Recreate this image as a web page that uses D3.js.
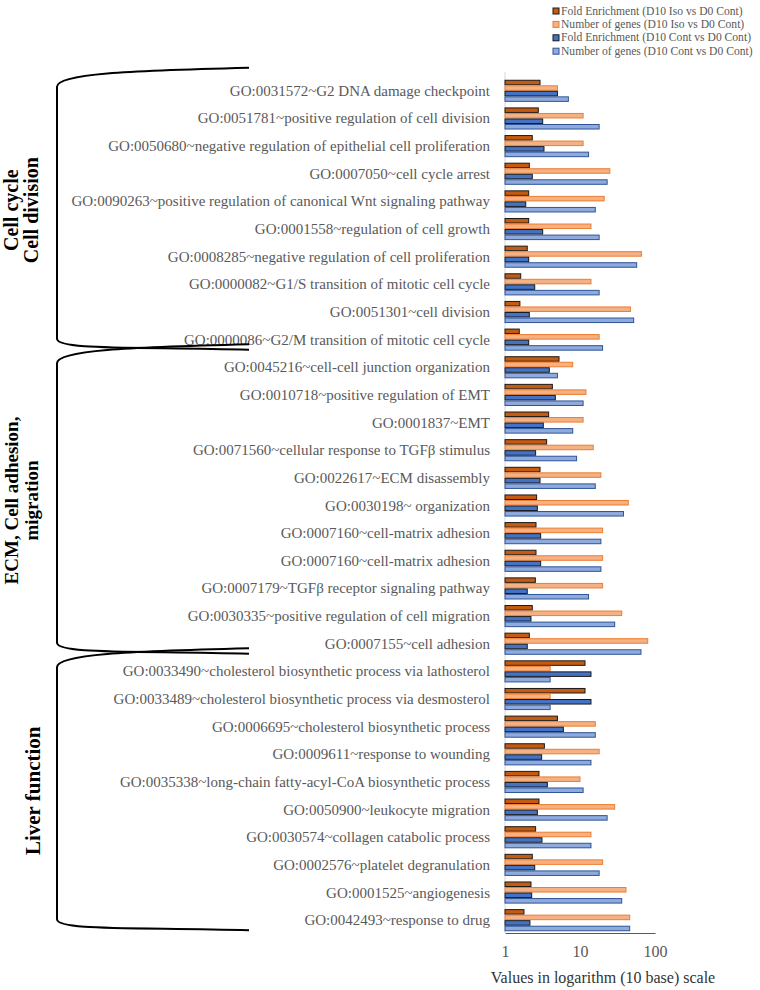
<!DOCTYPE html>
<html><head><meta charset="utf-8">
<script src="https://cdn.jsdelivr.net/npm/d3@7"></script>
<style>body{margin:0;background:#fff}svg{display:block}</style>
</head><body>
<svg id="c" width="760" height="990"></svg>
<script>
const categories = [
"GO:0031572~G2 DNA damage checkpoint",
"GO:0051781~positive regulation of cell division",
"GO:0050680~negative regulation of epithelial cell proliferation",
"GO:0007050~cell cycle arrest",
"GO:0090263~positive regulation of canonical Wnt signaling pathway",
"GO:0001558~regulation of cell growth",
"GO:0008285~negative regulation of cell proliferation",
"GO:0000082~G1/S transition of mitotic cell cycle",
"GO:0051301~cell division",
"GO:0000086~G2/M transition of mitotic cell cycle",
"GO:0045216~cell-cell junction organization",
"GO:0010718~positive regulation of EMT",
"GO:0001837~EMT",
"GO:0071560~cellular response to  TGFβ stimulus",
"GO:0022617~ECM disassembly",
"GO:0030198~ organization",
"GO:0007160~cell-matrix adhesion",
"GO:0007160~cell-matrix adhesion",
"GO:0007179~TGFβ  receptor signaling pathway",
"GO:0030335~positive regulation of cell migration",
"GO:0007155~cell adhesion",
"GO:0033490~cholesterol biosynthetic process via lathosterol",
"GO:0033489~cholesterol biosynthetic process via desmosterol",
"GO:0006695~cholesterol biosynthetic process",
"GO:0009611~response to wounding",
"GO:0035338~long-chain fatty-acyl-CoA biosynthetic process",
"GO:0050900~leukocyte migration",
"GO:0030574~collagen catabolic process",
"GO:0002576~platelet degranulation",
"GO:0001525~angiogenesis",
"GO:0042493~response to drug"
];
const foldIso   = [2.93,2.78,2.31,2.11,2.07,2.07,1.98,1.62,1.58,1.55, 5.25,4.28,3.82,3.59,2.93,2.64,2.59,2.59,2.54,2.31,2.11, 11.66,11.66,5.0,3.35,2.84,2.84,2.56,2.31,2.22,1.79];
const genesIso  = [5,11,11,25,21,14,66,14,47,18, 8,12,11,15,19,44,20,20,20,36,80, 4,4,16,18,10,29,14,20,41,46];
const foldCont  = [5.0,3.18,3.31,2.31,1.89,3.18,2.07,2.49,2.11,2.07, 3.9,4.69,3.24,2.56,2.93,2.7,2.99,2.99,1.98,2.22,1.98, 14,14,6.0,3.08,3.67,2.7,3.11,2.49,2.27,2.15];
const genesCont = [7,18,13,23,16,18,57,18,52,20, 5,11,8,9,16,38,19,19,13,29,65, 4,4,16,14,11,23,14,18,36,46];
const seriesNames = [
"Fold Enrichment (D10 Iso vs D0 Cont)",
"Number of genes (D10 Iso vs D0 Cont)",
"Fold Enrichment (D10 Cont vs D0 Cont)",
"Number of genes (D10 Cont vs D0 Cont)"
];
const xTicks = [1, 10, 100];
const groupNames = [["Cell cycle","Cell division"],["ECM, Cell adhesion,","migration"],["Liver function"]];
const groupStart = [0, 10, 21];
const groupEnd = [9, 20, 30];

const seriesVals = [foldIso, genesIso, foldCont, genesCont];
const fills = ["#c55a11","#f4b183","#4472c4","#8faadc"];
const strokes = ["#1a1a1a","#ed7d31","#1a1a1a","#2f5597"];

const svg = d3.select("#c");
const serif = "'Liberation Serif','Times New Roman',serif";

const x = d3.scaleLog().domain([1,100]).range([505,655]);
const y = d3.scaleBand().domain(d3.range(categories.length)).range([77,934]).paddingInner(0.2).paddingOuter(0.1);
const ySub = d3.scaleBand().domain(d3.range(4)).range([0, y.bandwidth()]);

// vertical axis line
svg.append("line").attr("x1",505).attr("x2",505).attr("y1",72).attr("y2",933)
  .attr("stroke","#d9d9d9").attr("stroke-width",1);

// bars
const rows = svg.append("g").selectAll("g").data(categories).join("g")
  .attr("transform",(d,i)=>`translate(0,${y(i)})`);
rows.selectAll("rect").data((d,i)=>seriesVals.map((s,k)=>({k, v:s[i]}))).join("rect")
  .attr("x", x(1)).attr("y", d=>ySub(d.k)+0.5)
  .attr("width", d=>x(d.v)-x(1)).attr("height", ySub.bandwidth()-1)
  .attr("fill", d=>fills[d.k]).attr("stroke", d=>strokes[d.k]).attr("stroke-width",1);

// category labels
svg.append("g").selectAll("text").data(categories).join("text")
  .attr("x",490).attr("y",(d,i)=>y(i)+y.bandwidth()/2)
  .attr("text-anchor","end").attr("dominant-baseline","central")
  .attr("font-family",serif).attr("font-size",15).attr("fill","#595959")
  .text(d=>d);

// x axis
const ax = svg.append("g").attr("transform","translate(0,933)")
  .call(d3.axisBottom(x).tickValues(xTicks).tickFormat(d3.format("d")).tickSize(0).tickPadding(13));
ax.select(".domain").attr("stroke","#595959").attr("stroke-width",1.2);
ax.selectAll("text").attr("font-family",serif).attr("font-size",16).attr("fill","#595959");

svg.append("text").attr("x",603).attr("y",983).attr("text-anchor","middle")
  .attr("font-family",serif).attr("font-size",16).attr("fill","#333")
  .text("Values in logarithm (10 base) scale");

// legend
const lg = svg.append("g").selectAll("g").data(seriesNames).join("g")
  .attr("transform",(d,i)=>`translate(553,${11+i*13.4})`);
lg.append("rect").attr("x",0).attr("y",-3).attr("width",6).attr("height",6)
  .attr("fill",(d,i)=>fills[i]).attr("stroke",(d,i)=>strokes[i]).attr("stroke-width",1);
lg.append("text").attr("x",8).attr("y",0).attr("dominant-baseline","central")
  .attr("font-family",serif).attr("font-size",11.6).attr("fill","#595959").text(d=>d);

// brackets
const bx = 57, ex = 249;
const labelSize = [20, 19, 21];
const labelX = [18, 18, 40];
groupNames.forEach((names, g) => {
  const y0 = y(groupStart[g]);
  const y1 = y(groupEnd[g]) + y.bandwidth();
  const topL = y0 + 7, topR = y0 - 12;
  const botL = y1 - 12, botR = y1 - 1;
  const path = `M${ex},${topR} C${bx+70},${topR+3} ${bx},${topL-13} ${bx},${topL}` +
               ` L${bx},${botL} C${bx},${botL+11} ${bx+70},${botR-3} ${ex},${botR}`;
  svg.append("path").attr("d",path).attr("fill","none").attr("stroke","#000").attr("stroke-width",2);
  const cy = (y0 + y1) / 2 - 5;
  const tg = svg.append("text").attr("transform",`translate(${labelX[g]},${cy}) rotate(-90)`)
    .attr("text-anchor","middle").attr("font-family",serif).attr("font-weight","bold")
    .attr("font-size",labelSize[g]).attr("fill","#000");
  names.forEach((s,j)=>{
    tg.append("tspan").attr("x",0).attr("dy", j===0 ? 0 : 20).text(s);
  });
});
</script>
</body></html>
